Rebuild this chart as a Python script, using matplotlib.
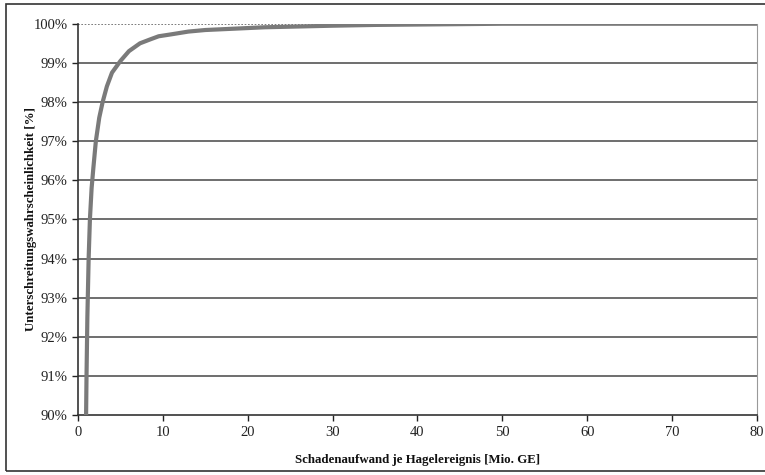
import matplotlib.pyplot as plt
from matplotlib.patches import Rectangle
from matplotlib.ticker import FuncFormatter

# Schadenaufwand [Mio. GE] vs. Unterschreitungswahrscheinlichkeit [%]
schaden = [0.95, 1.0, 1.1, 1.25, 1.4, 1.6, 1.8, 2.1, 2.5, 2.9, 3.4, 4.0,
           5.0, 6.0, 7.3, 8.5, 9.5, 11, 13, 15, 18, 22, 26, 30, 35, 40,
           45, 50, 60, 70, 80]
wahrsch = [90.0, 91.0, 92.5, 94.0, 95.0, 95.8, 96.3, 97.0, 97.6, 98.0, 98.4,
           98.75, 99.05, 99.3, 99.5, 99.6, 99.68, 99.73, 99.8, 99.84, 99.87,
           99.91, 99.93, 99.95, 99.97, 99.98, 99.99, 100.0, 100.0, 100.0,
           100.0]
yticks = list(range(90, 101))
xticks = list(range(0, 90, 10))

plt.rcParams['font.family'] = ['Liberation Serif', 'DejaVu Serif']

fig = plt.figure(figsize=(7.65, 4.75), dpi=100)
ax = fig.add_axes([0.102, 0.126, 0.8875, 0.824])

# aussenrahmen
fig.patches.append(Rectangle((0.008, 0.008), 0.995, 0.983, transform=fig.transFigure,
                             fill=False, edgecolor='#333333', linewidth=1.2))

for y in yticks[1:]:
    if y == 100:
        ax.axhline(y, color='#666666', linewidth=1.2, linestyle=(0, (1, 1)), zorder=1)
    else:
        ax.axhline(y, color='#555555', linewidth=1.2, zorder=1)

ax.plot(schaden, wahrsch, color='#7a7a7a', linewidth=3, zorder=3)

ax.set_xlim(0, 80)
ax.set_ylim(90, 100)
ax.set_xticks(xticks)
ax.set_yticks(yticks)
ax.yaxis.set_major_formatter(FuncFormatter(lambda v, p: '%d%%' % v))
ax.tick_params(labelsize=10.5, colors='#222222', length=4, width=1, direction='out')

ax.spines['top'].set_visible(False)
ax.spines['right'].set_color('#999999')
ax.spines['left'].set_color('#333333')
ax.spines['bottom'].set_color('#333333')
ax.spines['left'].set_linewidth(1.2)
ax.spines['bottom'].set_linewidth(1.2)

ax.set_xlabel('Schadenaufwand je Hagelereignis [Mio. GE]', fontsize=9.3,
              fontweight='bold', color='#111111')
ax.set_ylabel('Unterschreitungswahrscheinlichkeit [%]', fontsize=9.3,
              fontweight='bold', color='#111111')
ax.xaxis.set_label_coords(0.5, -0.1)
ax.yaxis.set_label_coords(-0.06, 0.5)

fig.savefig('out.png', dpi=100)
